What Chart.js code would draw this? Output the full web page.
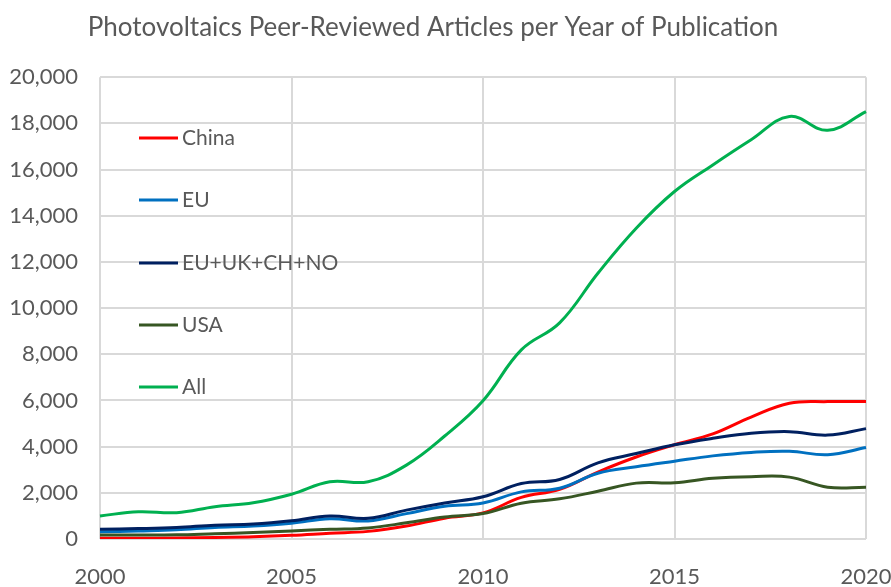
<!DOCTYPE html>
<html>
<head>
<meta charset="utf-8">
<script src="https://cdn.jsdelivr.net/npm/chart.js@4.4.1/dist/chart.umd.min.js"></script>
<style>
  html, body { margin: 0; padding: 0; background: #fff; }
  #wrap { width: 891px; height: 587px; }
</style>
</head>
<body>
<div id="wrap"><canvas id="chart" width="891" height="587"></canvas></div>
<script>
/* ===== PV ARTICLES PER YEAR ===== */
const years = [2000, 2001, 2002, 2003, 2004, 2005, 2006, 2007, 2008, 2009, 2010,
               2011, 2012, 2013, 2014, 2015, 2016, 2017, 2018, 2019, 2020];

const china  = [30, 30, 40, 70, 100, 160, 250, 330, 560, 900, 1130,
                1800, 2150, 2900, 3550, 4080, 4550, 5280, 5880, 5950, 5950];
const eu     = [310, 350, 400, 500, 560, 680, 880, 780, 1100, 1420, 1560,
                2040, 2200, 2850, 3130, 3370, 3600, 3750, 3800, 3650, 3960];
const euPlus = [420, 450, 500, 600, 650, 790, 1000, 900, 1250, 1560, 1830,
                2400, 2580, 3300, 3700, 4080, 4360, 4580, 4650, 4500, 4780];
const usa    = [170, 170, 180, 230, 280, 350, 420, 480, 700, 950, 1100,
                1550, 1740, 2070, 2420, 2440, 2630, 2700, 2680, 2240, 2240];
const all    = [1000, 1180, 1140, 1400, 1570, 1940, 2480, 2480, 3200, 4460, 5990,
                8190, 9360, 11510, 13460, 15050, 16200, 17290, 18300, 17700, 18510];

const seriesNames  = ['China', 'EU', 'EU+UK+CH+NO', 'USA', 'All'];
const seriesColors = ['#ff0000', '#0070c0', '#002060', '#375623', '#00b050'];

const FONT = 'Lato, Carlito, "Open Sans", sans-serif';
const TXT = '#595959';
const GRID = '#d9d9d9';

// legend drawn inside the plot area, stacked vertically
const insideLegend = {
  id: 'insideLegend',
  afterDatasetsDraw(chart) {
    const ctx = chart.ctx;
    const x0 = 139, x1 = 178, tx = 182;
    const rows = [138, 200, 263, 325, 387];
    ctx.save();
    ctx.font = '21px ' + FONT;
    ctx.textBaseline = 'middle';
    chart.data.datasets.forEach((ds, i) => {
      const y = rows[i];
      ctx.strokeStyle = ds.borderColor;
      ctx.lineWidth = 3;
      ctx.beginPath(); ctx.moveTo(x0, y); ctx.lineTo(x1, y); ctx.stroke();
      ctx.fillStyle = TXT;
      ctx.fillText(ds.label, tx, y);
    });
    ctx.restore();
  }
};

const values = [china, eu, euPlus, usa, all];

new Chart(document.getElementById('chart'), {
  type: 'line',
  data: {
    labels: years,
    datasets: values.map((v, i) => ({
      label: seriesNames[i],
      data: v,
      borderColor: seriesColors[i],
      backgroundColor: seriesColors[i],
      borderWidth: 3,
      pointRadius: 0,
      tension: 0.4,
      fill: false,
      order: 4 - i
    }))
  },
  options: {
    responsive: false,
    animation: false,
    layout: { padding: { left: 0, right: 25, top: 0, bottom: 0 } },
    plugins: {
      legend: { display: false },
      tooltip: { enabled: false },
      title: {
        display: true,
        text: 'Photovoltaics Peer-Reviewed Articles per Year of Publication',
        color: TXT,
        font: { family: FONT, size: 26, weight: 'normal' },
        padding: { top: 12, bottom: 34 }
      }
    },
    scales: {
      x: {
        afterFit(scale) { scale.height = 48; scale.paddingLeft = 0; scale.paddingRight = 0; },
        border: { display: false },
        grid: {
          drawTicks: false,
          lineWidth: 2,
          color: c => (years[c.index] % 5 === 0 ? GRID : 'rgba(0,0,0,0)')
        },
        ticks: {
          autoSkip: false,
          maxRotation: 0,
          padding: 25,
          color: TXT,
          font: { family: FONT, size: 22 },
          callback: (v, i) => (years[i] % 5 === 0 ? String(years[i]) : '')
        }
      },
      y: {
        min: 0,
        max: 20000,
        afterFit(scale) { scale.width = 100; },
        border: { display: false },
        grid: { drawTicks: false, lineWidth: 2, color: GRID },
        ticks: {
          stepSize: 2000,
          padding: 22,
          color: TXT,
          font: { family: FONT, size: 22 },
          callback: v => v.toLocaleString('en-US')
        }
      }
    }
  },
  plugins: [insideLegend]
});
</script>
</body>
</html>
